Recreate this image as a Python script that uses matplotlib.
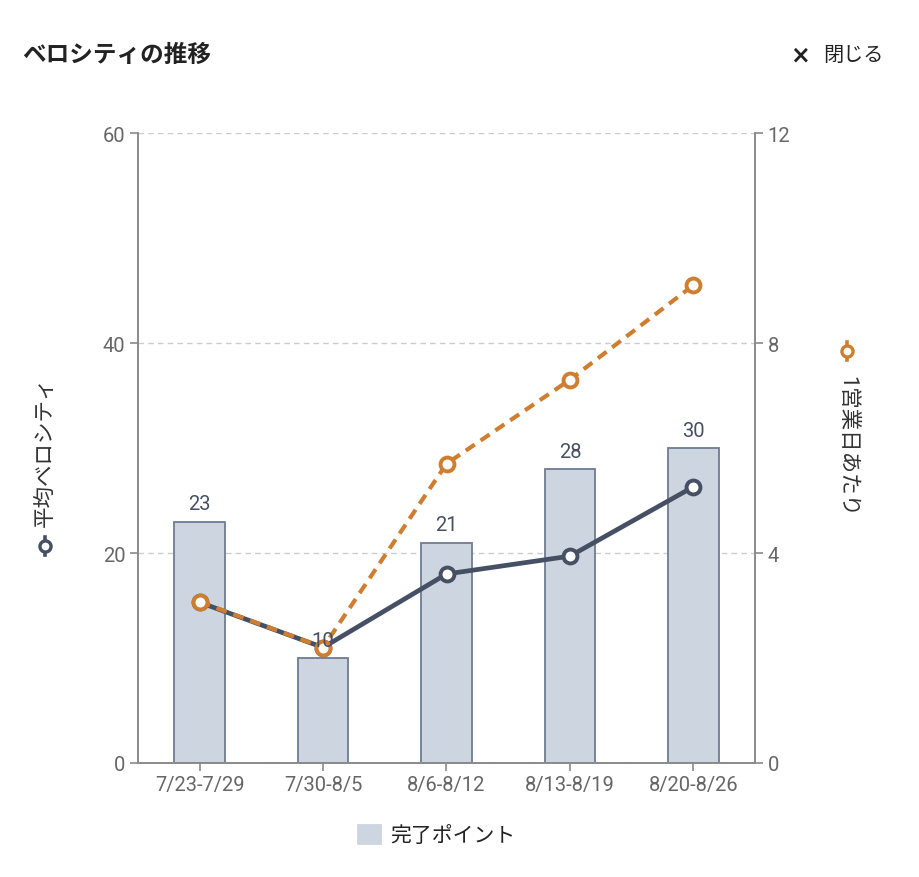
import matplotlib.pyplot as plt
from matplotlib.lines import Line2D
import numpy as np

plt.rcParams["font.family"] = ["Roboto", "Noto Sans CJK JP", "DejaVu Sans"]

# data
weeks = ["7/23-7/29", "7/30-8/5", "8/6-8/12", "8/13-8/19", "8/20-8/26"]
completed_points = [23, 10, 21, 28, 30]
avg_velocity = [15.3, 11.0, 18.0, 19.7, 26.3]
per_business_day = [3.07, 2.2, 5.7, 7.3, 9.1]

BAR_FACE = "#CDD5E0"
BAR_EDGE = "#6F7C93"
DARK = "#465064"
ORANGE = "#CF7E2F"
AXIS = "#8A8A8A"
TICK_TEXT = "#666666"

W, H = 920, 878


def fx(px):
    return px / W


def fy(py):
    return 1 - py / H


fig = plt.figure(figsize=(W / 100, H / 100), dpi=100)
ax = fig.add_axes([fx(138), fy(764), fx(755) - fx(138), fy(134) - fy(764)])
ax2 = ax.twinx()

x = np.arange(len(weeks))
bars = ax.bar(x, completed_points, width=0.41, color=BAR_FACE,
              edgecolor=BAR_EDGE, linewidth=1.3, zorder=2, label="完了ポイント")

ax.set_xlim(-0.5, len(weeks) - 0.5)
ax.set_ylim(0, 60)
ax.set_yticks([0, 20, 40, 60])
ax2.set_ylim(0, 12)
ax2.set_yticks([0, 4, 8, 12])

ax.grid(True, axis="y", linestyle=(0, (4, 3)), color="#CCCCCC", linewidth=1,
        zorder=0)
ax.set_axisbelow(True)

ax.set_xticks(x)
ax.set_xticklabels(weeks)

for a in (ax, ax2):
    a.spines["top"].set_visible(False)
    for s in ("left", "right", "bottom"):
        a.spines[s].set_color(AXIS)
        a.spines[s].set_linewidth(1.2)
    a.tick_params(length=6, width=1.2, color=AXIS, labelcolor=TICK_TEXT,
                  labelsize=14.5, pad=3)

# lines on secondary axis so both are above the bars
ax2.plot(x, np.array(avg_velocity) / 5.0, color=DARK, linewidth=3.4,
         marker="o", markersize=10, markerfacecolor="white",
         markeredgewidth=2.8, markeredgecolor=DARK, zorder=3)
ax2.plot(x, per_business_day, color=ORANGE, linewidth=3.0,
         linestyle=(0, (2.6, 1.7)), marker="o", markersize=10,
         markerfacecolor="white", markeredgewidth=2.8,
         markeredgecolor=ORANGE, zorder=4)

# bar value labels, drawn above the lines like in the reference
for xi, v in zip(x, completed_points):
    ax2.text(xi, v + 0.8, f"{v}", transform=ax.transData, ha="center",
             va="bottom", fontsize=14.5, color=DARK, zorder=6)

# header
fig.text(fx(22), fy(55), "ベロシティの推移", fontsize=17, fontweight="bold",
         color="#222222", ha="left", va="center")
fig.text(fx(800), fy(55), "×", fontsize=17, fontweight="bold",
         color="#222222", ha="center", va="center", family="DejaVu Sans")
fig.text(fx(884), fy(55), "閉じる", fontsize=14.5, color="#222222",
         ha="right", va="center")

# axis labels with small legend icons
fig.text(fx(45), fy(452), "平均ベロシティ", rotation=90, fontsize=15.5,
         color="#333333", ha="center", va="center")
fig.text(fx(847), fy(447), "1営業日あたり", rotation=-90, fontsize=15.5,
         color="#333333", ha="center", va="center")


def icon(px, py, color):
    fig.add_artist(Line2D([fx(px), fx(px)], [fy(py - 9), fy(py + 9)],
                          transform=fig.transFigure, color=color,
                          linewidth=2.6))
    fig.add_artist(Line2D([fx(px)], [fy(py)], transform=fig.transFigure,
                          marker="o", markersize=8, markerfacecolor="white",
                          markeredgecolor=color, markeredgewidth=2.4))


icon(45, 547, DARK)
icon(847, 352, ORANGE)

fig.legend(handles=[bars], loc="center", bbox_to_anchor=(fx(437), fy(836)),
           frameon=False, fontsize=15, handlelength=1.1, handleheight=1.05,
           handletextpad=0.45, labelcolor="#222222")
leg_patch = fig.legends[0].get_patches()[0]
leg_patch.set_edgecolor(BAR_FACE)

fig.savefig("out.png", dpi=100)
